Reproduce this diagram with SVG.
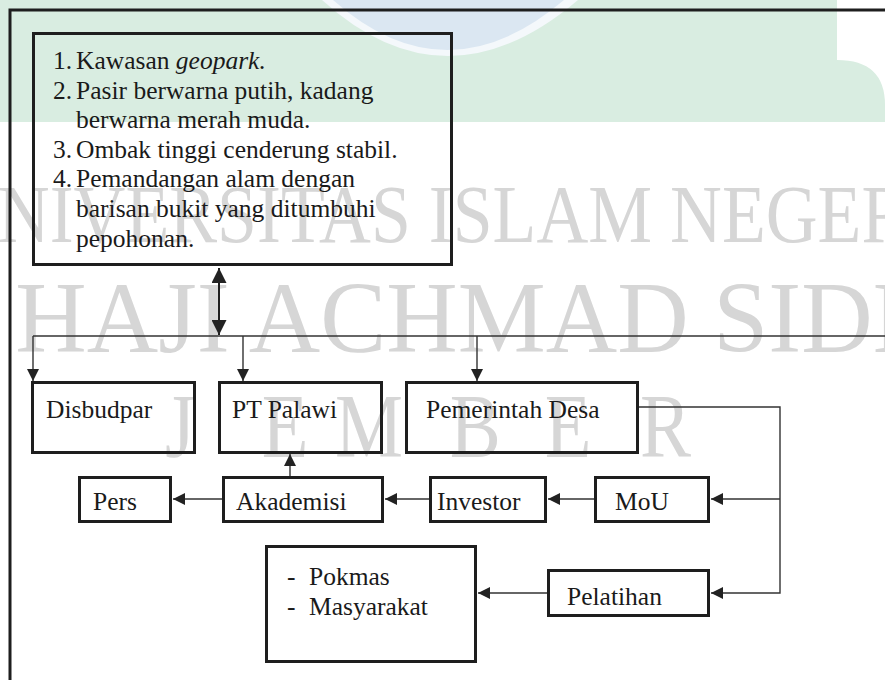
<svg xmlns="http://www.w3.org/2000/svg" width="885" height="680" viewBox="0 0 885 680">
<defs>
<style>
.bx{fill:none;stroke:#1e1e1e;stroke-width:3}
.t{font-family:"Liberation Serif","Times New Roman",serif;font-size:25.5px;fill:#1a1a1a}
.c{fill:none;stroke:#333;stroke-width:1.4}
.wm{font-family:"Liberation Serif","Times New Roman",serif;fill:#d6d6d6}
</style>
<marker id="a" viewBox="0 0 12 12" refX="12" refY="6" markerWidth="12" markerHeight="12" markerUnits="userSpaceOnUse" orient="auto"><path d="M0,0 L12,6 L0,12 z" fill="#222"/></marker>
<marker id="b" viewBox="0 0 15 15" refX="15" refY="7.5" markerWidth="15" markerHeight="15" markerUnits="userSpaceOnUse" orient="auto-start-reverse"><path d="M0,0 L15,7.5 L0,15 z" fill="#222"/></marker>
</defs>
<rect width="885" height="680" fill="#fff"/>
<g id="logo">
<path d="M0,0 H837 V60 Q885,60 885,105 V122 H0 Z" fill="#d9ede1"/>
<path d="M322,0 Q446,112 578,0 Z" fill="#f4f8fb"/>
<path d="M333,0 Q446,100 564,0 Z" fill="#dbe7f2"/>
</g>
<g id="watermark">
<text class="wm" font-size="83" transform="scale(0.865,1)" x="-62.5" y="242">UNIVERSITAS ISLAM NEGERI</text>
<text class="wm" font-size="102" transform="scale(0.97,1)" x="-225" y="352">KIAI HAJI ACHMAD SIDDIQ</text>
<text class="wm" font-size="90" transform="scale(0.85,1)" x="194 308 394 529 641 753" y="457">JEMBER</text>
</g>
<g id="frame">
<path d="M885,10 H10 V680" fill="none" stroke="#1e1e1e" stroke-width="3"/>
</g>
<g id="potensi">
<rect class="bx" x="33.5" y="33.5" width="418" height="231"/>
<text class="t" y="69"><tspan x="53">1.</tspan><tspan x="76">Kawasan </tspan><tspan font-style="italic">geopark.</tspan></text>
<text class="t" y="98.6"><tspan x="53">2.</tspan><tspan x="76">Pasir berwarna putih, kadang</tspan></text>
<text class="t" x="76" y="128.2">berwarna merah muda.</text>
<text class="t" y="157.8"><tspan x="53">3.</tspan><tspan x="76">Ombak tinggi cenderung stabil.</tspan></text>
<text class="t" y="187.4"><tspan x="53">4.</tspan><tspan x="76">Pemandangan alam dengan</tspan></text>
<text class="t" x="76" y="217">barisan bukit yang ditumbuhi</text>
<text class="t" x="76" y="246.6">pepohonan.</text>
</g>
<g id="disbudpar"><rect class="bx" x="32.5" y="382.5" width="162" height="70"/><text class="t" x="46" y="418">Disbudpar</text></g>
<g id="pt-palawi"><rect class="bx" x="219.5" y="382.5" width="162" height="70"/><text class="t" x="232" y="418">PT Palawi</text></g>
<g id="pemerintah-desa"><rect class="bx" x="406.5" y="382.5" width="231" height="70"/><text class="t" x="426" y="418">Pemerintah Desa</text></g>
<g id="pers"><rect class="bx" x="79.5" y="477.5" width="91" height="44"/><text class="t" x="93" y="510">Pers</text></g>
<g id="akademisi"><rect class="bx" x="223.5" y="477.5" width="159" height="44"/><text class="t" x="236" y="510">Akademisi</text></g>
<g id="investor"><rect class="bx" x="430.5" y="477.5" width="115" height="44"/><text class="t" x="437" y="510">Investor</text></g>
<g id="mou"><rect class="bx" x="595.5" y="477.5" width="113" height="44"/><text class="t" x="615" y="510">MoU</text></g>
<g id="pokmas"><rect class="bx" x="266.5" y="546.5" width="209" height="115"/><text class="t" y="585"><tspan x="287">-</tspan><tspan x="309">Pokmas</tspan></text><text class="t" y="615"><tspan x="287">-</tspan><tspan x="309">Masyarakat</tspan></text></g>
<g id="pelatihan"><rect class="bx" x="548.5" y="570.5" width="160" height="45"/><text class="t" x="567" y="605">Pelatihan</text></g>
<g id="connectors">
<path d="M219,268 V335" fill="none" stroke="#1e1e1e" stroke-width="2" marker-start="url(#b)" marker-end="url(#b)"/>
<path class="c" d="M33,336 H885"/>
<path class="c" d="M33,336 V381" marker-end="url(#a)"/>
<path class="c" d="M243,336 V381" marker-end="url(#a)"/>
<path class="c" d="M477,336 V381" marker-end="url(#a)"/>
<path class="c" d="M639,407 H780 V593 H711" marker-end="url(#a)"/>
<path class="c" d="M780,499 H711" marker-end="url(#a)"/>
<path class="c" d="M594,499 H548" marker-end="url(#a)"/>
<path class="c" d="M429,499 H385" marker-end="url(#a)"/>
<path class="c" d="M222,499 H173" marker-end="url(#a)"/>
<path class="c" d="M290,476 V454" marker-end="url(#a)"/>
<path class="c" d="M547,593 H478" marker-end="url(#a)"/>
</g>
</svg>
